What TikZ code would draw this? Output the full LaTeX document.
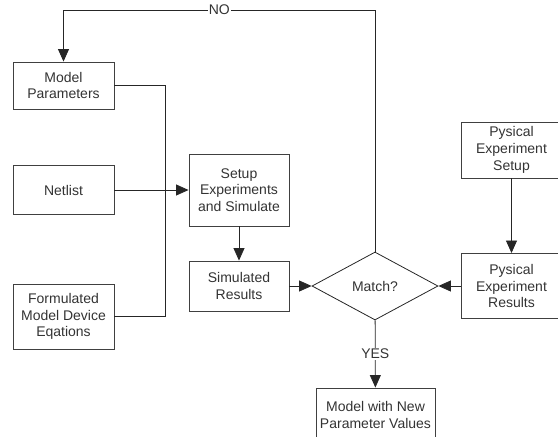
\documentclass[tikz,border=0pt]{standalone}
\usepackage{fontspec}
\setmainfont{Liberation Sans}
\usetikzlibrary{arrows.meta,shapes.geometric}

\begin{document}
\begin{tikzpicture}[x=1pt,y=-1pt,line width=0.8pt,draw=black!85,
  >={Triangle[length=12.5pt,width=11pt]},
  font=\fontsize{14}{16.7}\selectfont,
  box/.style={draw=black!75,line width=0.9pt,align=center,inner sep=0pt,minimum width=101pt,text=black!80},
  decision/.style={draw=black!85,diamond,aspect=1.85,minimum width=126pt,minimum height=68pt,inner sep=0pt,text=black!80},
  tag/.style={fill=white,inner sep=1pt,text=black!80}]

\useasboundingbox (0,0) rectangle (558,437);

\node [box,minimum height=47pt] (param) at (63.5,85.5) {Model\\Parameters};
\node [box,minimum height=49pt] (netlist) at (63.5,190) {Netlist};
\node [box,minimum height=65pt] (eqs) at (63.5,316.5) {Formulated\\Model Device\\Eqations};

\node [box,minimum width=100pt,minimum height=72pt] (setup) at (239,190) {Setup\\Experiments\\and Simulate};
\node [box,minimum width=100pt,minimum height=50pt] (simres) at (239,286) {Simulated\\Results};

\node [decision] (match) at (375,286) {Match?};

\node [box,minimum height=56pt] (physetup) at (511.5,150) {Pysical\\Experiment\\Setup};
\node [box,minimum height=65pt] (phyres) at (511.5,286) {Pysical\\Experiment\\Results};

\node [box,minimum width=119pt,minimum height=54pt] (newmodel) at (375.5,415) {Model with New\\Parameter Values};

\draw [->] (match.north) -- (match.north |- 0,10) -- node[tag] {NO} (param.north |- 0,10) -- (param.north);

\draw (param.east) -| (165,316.5) -- (eqs.east);
\draw [->] (netlist.east) -- (setup.west);
\draw [->] (setup) -- (simres);
\draw [->] (simres) -- (match);
\draw [->] (phyres) -- (match);
\draw [->] (physetup) -- (phyres);
\draw [->] (match) -- node[tag] {YES} (newmodel);

\end{tikzpicture}
\end{document}
